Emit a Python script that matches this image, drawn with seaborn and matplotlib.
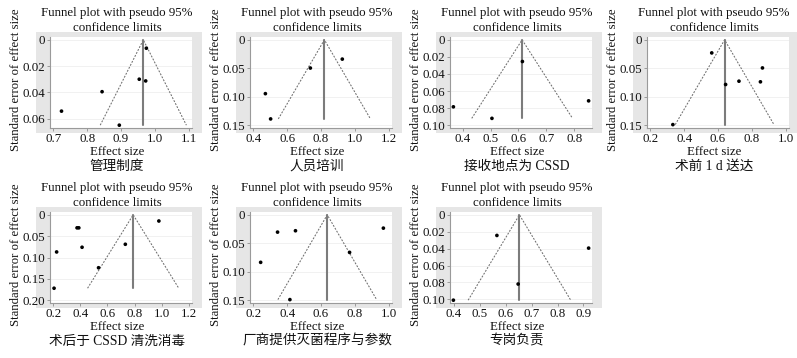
import matplotlib
matplotlib.use("Agg")
import matplotlib.pyplot as plt
from matplotlib.patches import Rectangle
import pandas as pd
import seaborn as sns

W, H = 797, 358

captions = [
    "管理制度",
    "人员培训",
    "接收地点为 CSSD",
    "术前 1 d 送达",
    "术后于 CSSD 清洗消毒",
    "厂商提供灭菌程序与参数",
    "专岗负责",
]

# pooled effect (centre of each funnel)
pooled = [0.966, 0.82, 0.613, 0.639, 0.79, 0.637, 0.653]

effect_guanli = [0.975, 0.954, 0.973, 0.844, 0.724, 0.895]
se_guanli = [0.0064, 0.030, 0.0313, 0.0395, 0.0543, 0.065]

effect_peixun = [0.926, 0.737, 0.471, 0.502]
se_peixun = [0.0339, 0.0496, 0.0946, 0.139]

effect_jieshou = [0.614, 0.367, 0.505, 0.851]
se_jieshou = [0.0254, 0.0785, 0.092, 0.0715]

effect_shuqian = [0.563, 0.645, 0.724, 0.851, 0.863, 0.333]
se_shuqian = [0.023, 0.0785, 0.0727, 0.0738, 0.0494, 0.149]

effect_shuhou = [0.98, 0.375, 0.388, 0.224, 0.412, 0.732, 0.534, 0.205]
se_shuhou = [0.0145, 0.0305, 0.0305, 0.087, 0.076, 0.069, 0.124, 0.172]

effect_changshang = [0.343, 0.449, 0.969, 0.769, 0.243, 0.416]
se_changshang = [0.0304, 0.028, 0.0234, 0.066, 0.0835, 0.149]

effect_zhuangang = [0.566, 0.92, 0.648, 0.398]
se_zhuangang = [0.0244, 0.0394, 0.0819, 0.101]

x_ticks = [
    [0.7, 0.8, 0.9, 1.0, 1.1],
    [0.4, 0.6, 0.8, 1.0, 1.2],
    [0.4, 0.5, 0.6, 0.7, 0.8],
    [0.2, 0.4, 0.6, 0.8, 1.0],
    [0.2, 0.4, 0.6, 0.8, 1.0, 1.2],
    [0.2, 0.4, 0.6, 0.8, 1.0],
    [0.4, 0.5, 0.6, 0.7, 0.8, 0.9],
]
y_ticks = [
    [0, 0.02, 0.04, 0.06],
    [0, 0.05, 0.10, 0.15],
    [0, 0.02, 0.04, 0.06, 0.08, 0.10],
    [0, 0.05, 0.10, 0.15],
    [0, 0.05, 0.10, 0.15, 0.20],
    [0, 0.05, 0.10, 0.15],
    [0, 0.02, 0.04, 0.06, 0.08, 0.10],
]

effects = [effect_guanli, effect_peixun, effect_jieshou, effect_shuqian,
           effect_shuhou, effect_changshang, effect_zhuangang]
ses = [se_guanli, se_peixun, se_jieshou, se_shuqian,
       se_shuhou, se_changshang, se_zhuangang]

rows = []
for i, (es, se) in enumerate(zip(effects, ses)):
    for e, s in zip(es, se):
        rows.append({"panel": i, "effect": e, "se": s})
df = pd.DataFrame(rows)

sns.set_theme(style="white")
plt.rcParams["font.family"] = ["Liberation Serif", "Noto Sans CJK SC"]
plt.rcParams["axes.unicode_minus"] = False

# top-left corner of every small graph, in pixels
origins = [(0, 0), (200, 0), (400, 0), (597, 0), (0, 175), (200, 175), (400, 175)]
text_color = "#111111"

fig = plt.figure(figsize=(W / 100, H / 100), dpi=100)
fig.patch.set_facecolor("white")


def fx(px):
    return px / W


def fy(py):
    return 1 - py / H


for i, (ox, oy) in enumerate(origins):
    # grey graph region behind the plot region
    fig.patches.append(Rectangle((fx(ox + 36), fy(oy + 133)), (202 - 36) / W, (133 - 32) / H,
                                 transform=fig.transFigure, facecolor="#e6e6e6",
                                 edgecolor="none", zorder=-1))
    left, right, top, bottom = ox + 50, ox + 192, oy + 37, oy + 128
    ax = fig.add_axes([fx(left), fy(bottom), (right - left) / W, (bottom - top) / H])
    ax.set_facecolor("white")

    sub = df[df["panel"] == i]
    max_se = sub["se"].max()
    p = pooled[i]
    half = 1.96 * max_se

    ax.plot([p - half, p, p + half], [max_se, 0, max_se], color="#6e6e6e",
            lw=0.75, linestyle=(0, (1.8, 1.4)), zorder=2)
    ax.plot([p, p], [0, max_se], color="#7c7c7c", lw=1.5, zorder=2)
    sns.scatterplot(data=sub, x="effect", y="se", color="black", s=7,
                    edgecolor="none", ax=ax, legend=False, zorder=3)

    xt, yt = x_ticks[i], y_ticks[i]
    xmin = min(xt[0], sub["effect"].min(), p - half)
    xmax = max(xt[-1], sub["effect"].max(), p + half)
    xpad = 0.025 * (xmax - xmin)
    ax.set_xlim(xmin - xpad, xmax + xpad)
    ymax = max(yt[-1], max_se)
    ypad = 0.033 * ymax
    ax.set_ylim(ymax + ypad, -ypad)

    ax.set_xticks(xt)
    ax.set_xticklabels([f"{v:.1f}" for v in xt])
    ax.set_yticks(yt)
    ax.set_yticklabels(["0" if v == 0 else f"{v:.2f}" for v in yt])
    ax.yaxis.grid(True, color="#efefef", lw=0.6)
    ax.set_axisbelow(True)

    for side in ["top", "right"]:
        ax.spines[side].set_visible(False)
    for side in ["left", "bottom"]:
        ax.spines[side].set_color("#9a9a9a")
        ax.spines[side].set_linewidth(0.8)
    ax.tick_params(axis="both", which="major", direction="out", length=2.5,
                   width=0.7, color="#9a9a9a", labelsize=9.3, labelcolor=text_color,
                   pad=1.2, bottom=True, left=True)

    ax.set_xlabel("Effect size", fontsize=9.3, color=text_color)
    ax.xaxis.set_label_coords((117 - 50) / 142, (128 - 152) / 91)
    ax.xaxis.label.set_va("center")
    ax.set_ylabel("Standard error of effect size", fontsize=9.2, color=text_color)
    ax.yaxis.set_label_coords((16 - 50) / 142, (128 - 80) / 91)
    ax.yaxis.label.set_va("center")

    fig.text(fx(ox + 117), fy(oy + 20.5), "Funnel plot with pseudo 95%\nconfidence limits",
             ha="center", va="center", fontsize=9.3, color=text_color, linespacing=1.25)
    fig.text(fx(ox + 117), fy(oy + 166), captions[i], ha="center", va="center",
             fontsize=9.8, color=text_color)

fig.savefig("out.png", dpi=100)
plt.close(fig)
